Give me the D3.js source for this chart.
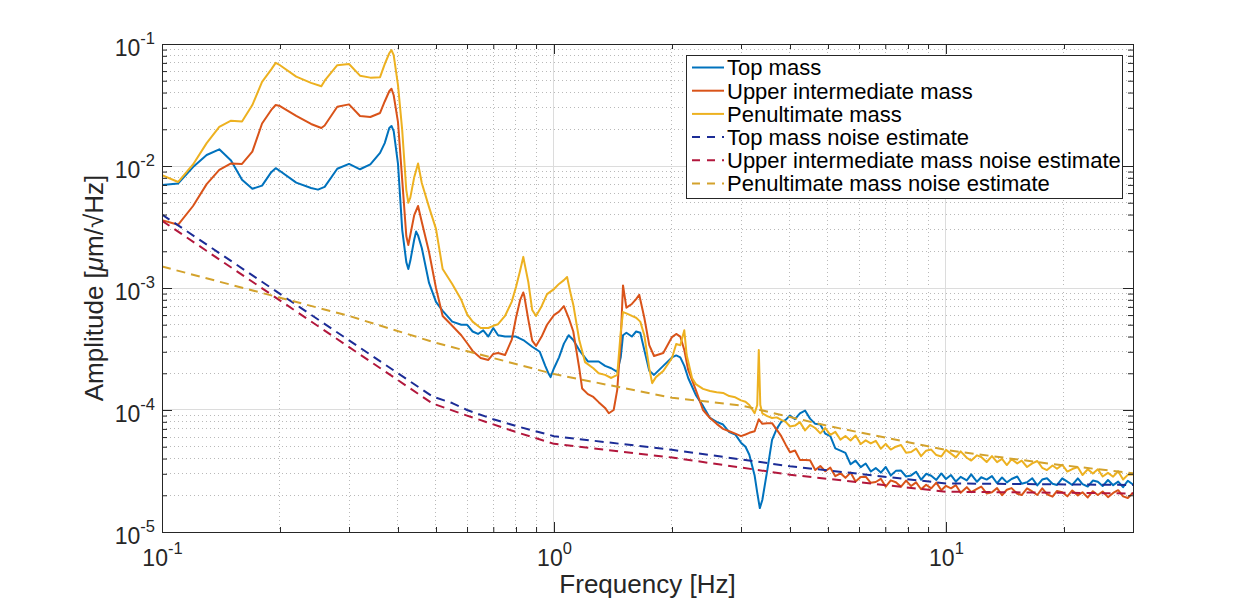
<!DOCTYPE html>
<html lang="en">

<head>
    <meta charset="UTF-8">
    <title>Suspension mass amplitude spectra</title>
    <script src="https://d3js.org/d3.v7.min.js"></script>
    <style>
        body {
            margin: 0;
            background: #fff;
        }

        svg {
            display: block;
            font-family: "Liberation Sans", Arial, Helvetica, sans-serif;
        }
    </style>
</head>

<body>
    <div id="chart"></div>

    <script>
        // ---- data (frequency in Hz, amplitude in um/sqrt(Hz)) ----
        var topFreq = [0.1, 0.11, 0.12, 0.13, 0.14, 0.15, 0.16, 0.17, 0.18, 0.19,
            0.195, 0.2, 0.22, 0.24, 0.25, 0.26, 0.28, 0.3, 0.32, 0.34,
            0.36, 0.37, 0.38, 0.385, 0.39, 0.4, 0.41, 0.42, 0.425, 0.43,
            0.44, 0.445, 0.45, 0.46, 0.48, 0.5, 0.52, 0.55, 0.58, 0.6,
            0.62, 0.64, 0.66, 0.68, 0.7, 0.72, 0.75, 0.78, 0.8, 0.84,
            0.88, 0.92, 0.95, 0.97, 0.98, 1.0, 1.03, 1.06, 1.09, 1.12,
            1.16, 1.22, 1.3, 1.35, 1.4, 1.45, 1.48, 1.5, 1.53, 1.58,
            1.62, 1.66, 1.7, 1.75, 1.8, 1.9, 2.0, 2.05, 2.1, 2.15,
            2.2, 2.3, 2.4, 2.5, 2.6, 2.7, 2.8, 2.9, 3.0, 3.08,
            3.15, 3.25, 3.3, 3.35, 3.4, 3.5, 3.6, 3.7, 3.8, 3.9];
        var topAmp = [7.0e-3, 7.2e-3, 9.8e-3, 1.23e-2, 1.37e-2, 1.11e-2, 7.7e-3, 6.5e-3, 6.9e-3, 8.9e-3,
            9.6e-3, 9.1e-3, 7.3e-3, 6.6e-3, 6.4e-3, 6.75e-3, 9.5e-3, 1.04e-2, 9.4e-3, 1.03e-2,
            1.28e-2, 1.54e-2, 2.05e-2, 2.13e-2, 1.93e-2, 1.04e-2, 3.0e-3, 1.63e-3, 1.43e-3, 1.67e-3,
            2.5e-3, 2.9e-3, 2.7e-3, 2.13e-3, 1.1e-3, 7.7e-4, 6.5e-4, 5.3e-4, 5.0e-4, 5.0e-4,
            4.4e-4, 4.2e-4, 4.5e-4, 4.0e-4, 4.7e-4, 4.1e-4, 4.0e-4, 4.0e-4, 4.0e-4, 3.7e-4,
            3.3e-4, 3.0e-4, 2.3e-4, 1.97e-4, 1.86e-4, 2.2e-4, 2.7e-4, 3.5e-4, 4.1e-4, 3.75e-4,
            3.1e-4, 2.5e-4, 2.5e-4, 2.3e-4, 2.2e-4, 2.05e-4, 2.7e-4, 4.1e-4, 4.3e-4, 4.0e-4,
            4.4e-4, 4.3e-4, 3.1e-4, 2.1e-4, 1.94e-4, 2.3e-4, 2.7e-4, 2.8e-4, 2.7e-4, 2.3e-4,
            1.83e-4, 1.33e-4, 1.08e-4, 8.6e-5, 8.0e-5, 7.6e-5, 6.6e-5, 6.3e-5, 5.4e-5, 5.0e-5,
            4.3e-5, 2.9e-5, 2.1e-5, 1.57e-5, 1.83e-5, 3.2e-5, 5.7e-5, 7.0e-5, 8.0e-5, 8.3e-5];

        var upperFreq = [0.1, 0.11, 0.12, 0.13, 0.14, 0.15, 0.16, 0.17, 0.18, 0.19,
            0.195, 0.2, 0.22, 0.24, 0.255, 0.26, 0.28, 0.3, 0.32, 0.34,
            0.36, 0.37, 0.38, 0.385, 0.39, 0.4, 0.41, 0.42, 0.425, 0.43,
            0.44, 0.45, 0.46, 0.48, 0.5, 0.52, 0.55, 0.58, 0.6, 0.62,
            0.65, 0.68, 0.7, 0.72, 0.75, 0.78, 0.8, 0.82, 0.835, 0.84,
            0.86, 0.88, 0.9, 0.93, 0.96, 1.0, 1.03, 1.06, 1.09, 1.12,
            1.16, 1.18, 1.22, 1.26, 1.3, 1.35, 1.38, 1.42, 1.45, 1.48,
            1.5, 1.53, 1.58, 1.62, 1.65, 1.7, 1.75, 1.8, 1.9, 2.0,
            2.05, 2.1, 2.15, 2.2, 2.3, 2.4, 2.5, 2.6, 2.7, 2.8,
            2.9, 3.0, 3.08, 3.15, 3.25, 3.33, 3.4, 3.5, 3.6, 3.7,
            3.8, 3.9];
        var upperAmp = [3.6e-3, 3.3e-3, 4.7e-3, 7.1e-3, 9.3e-3, 1.05e-2, 1.04e-2, 1.31e-2, 2.23e-2, 2.88e-2,
            3.16e-2, 3.1e-2, 2.58e-2, 2.21e-2, 2.05e-2, 2.15e-2, 3.06e-2, 3.2e-2, 2.57e-2, 2.52e-2,
            2.72e-2, 3.38e-2, 4.1e-2, 4.3e-2, 3.8e-2, 2.29e-2, 7.7e-3, 2.67e-3, 2.25e-3, 2.72e-3,
            3.96e-3, 4.7e-3, 3.48e-3, 1.97e-3, 1.0e-3, 5.9e-4, 4.9e-4, 4.1e-4, 3.54e-4, 3.05e-4,
            2.67e-4, 2.57e-4, 2.88e-4, 2.93e-4, 2.82e-4, 3.75e-4, 5.7e-4, 8.0e-4, 9.2e-4, 8.6e-4,
            5.5e-4, 3.7e-4, 3.35e-4, 4.0e-4, 5.0e-4, 6.0e-4, 6.4e-4, 7.1e-4, 5.7e-4, 4.4e-4,
            2.2e-4, 1.5e-4, 1.35e-4, 1.28e-4, 1.16e-4, 1.04e-4, 9.4e-5, 1.0e-4, 1.46e-4, 3.75e-4,
            1.05e-3, 6.9e-4, 7.4e-4, 8.1e-4, 8.8e-4, 5.7e-4, 3.4e-4, 2.77e-4, 2.93e-4, 3.96e-4,
            4.2e-4, 4.0e-4, 3.1e-4, 2.13e-4, 1.46e-4, 1.0e-4, 8.6e-5, 7.7e-5, 7.0e-5, 6.7e-5,
            6.4e-5, 6.1e-5, 6.3e-5, 6.5e-5, 6.7e-5, 8.4e-5, 7.7e-5, 7.8e-5, 7.8e-5, 6.9e-5,
            6.1e-5, 5.2e-5];

        var penultFreq = [0.1, 0.11, 0.12, 0.13, 0.14, 0.15, 0.16, 0.17, 0.18, 0.19,
            0.195, 0.2, 0.22, 0.24, 0.255, 0.26, 0.28, 0.3, 0.32, 0.34,
            0.36, 0.37, 0.38, 0.385, 0.39, 0.4, 0.41, 0.42, 0.425, 0.43,
            0.44, 0.45, 0.46, 0.48, 0.5, 0.52, 0.55, 0.58, 0.6, 0.62,
            0.65, 0.68, 0.7, 0.72, 0.75, 0.78, 0.8, 0.82, 0.835, 0.84,
            0.86, 0.88, 0.9, 0.93, 0.96, 1.0, 1.03, 1.06, 1.08, 1.1,
            1.12, 1.16, 1.2, 1.26, 1.3, 1.35, 1.4, 1.45, 1.48, 1.5,
            1.53, 1.58, 1.62, 1.66, 1.7, 1.75, 1.78, 1.82, 1.9, 2.0,
            2.05, 2.1, 2.15, 2.18, 2.25, 2.3, 2.4, 2.5, 2.6, 2.7,
            2.8, 2.9, 3.0, 3.08, 3.15, 3.25, 3.3, 3.33, 3.36, 3.4,
            3.5, 3.6, 3.7, 3.8, 3.9];
        var penultAmp = [8.4e-3, 7.4e-3, 1.03e-2, 1.54e-2, 2.09e-2, 2.35e-2, 2.32e-2, 3.16e-2, 4.9e-2, 6.2e-2,
            7.0e-2, 6.7e-2, 5.4e-2, 4.8e-2, 4.5e-2, 5.0e-2, 6.7e-2, 6.85e-2, 5.5e-2, 5.3e-2,
            5.35e-2, 6.85e-2, 8.4e-2, 8.9e-2, 8.1e-2, 4.6e-2, 1.97e-2, 6.35e-3, 5.0e-3, 5.5e-3,
            8.1e-3, 1.05e-2, 7.25e-3, 4.6e-3, 3.05e-3, 1.43e-3, 1.08e-3, 8.0e-4, 6.1e-4, 5.3e-4,
            4.7e-4, 4.7e-4, 4.9e-4, 5.05e-4, 5.9e-4, 7.7e-4, 1.02e-3, 1.4e-3, 1.8e-3, 1.63e-3,
            1.12e-3, 6.6e-4, 5.9e-4, 7.1e-4, 8.9e-4, 9.8e-4, 1.08e-3, 1.16e-3, 1.23e-3, 9.3e-4,
            7.3e-4, 3.75e-4, 2.47e-4, 2.2e-4, 2.0e-4, 1.94e-4, 1.83e-4, 1.94e-4, 4.35e-4, 6.35e-4,
            6.2e-4, 5.9e-4, 5.7e-4, 5.3e-4, 4.1e-4, 2.2e-4, 1.66e-4, 1.86e-4, 2.09e-4, 2.67e-4,
            3.47e-4, 3.4e-4, 4.5e-4, 2.82e-4, 1.83e-4, 1.63e-4, 1.49e-4, 1.43e-4, 1.4e-4, 1.38e-4,
            1.3e-4, 1.27e-4, 1.2e-4, 1.17e-4, 1.1e-4, 9.4e-5, 1.1e-4, 3.1e-4, 1.1e-4, 9.4e-5,
            8.9e-5, 8.6e-5, 8.7e-5, 8.3e-5, 8.0e-5];

        // noisy part above 4 Hz, shared frequency grid; amplitudes in units of 1e-5 um/sqrt(Hz)
        var hfFreq = [4.0, 4.12, 4.24, 4.37, 4.5, 4.64, 4.78, 4.92, 5.07, 5.22,
            5.38, 5.54, 5.71, 5.88, 6.06, 6.24, 6.43, 6.62, 6.82, 7.02,
            7.23, 7.45, 7.68, 7.91, 8.15, 8.39, 8.64, 8.9, 9.17, 9.45,
            9.73, 10.0, 10.3, 10.6, 10.9, 11.3, 11.6, 12.0, 12.3, 12.7,
            13.1, 13.5, 13.9, 14.3, 14.7, 15.2, 15.6, 16.1, 16.6, 17.1,
            17.6, 18.1, 18.7, 19.2, 19.8, 20.4, 21.0, 21.7, 22.3, 23.0,
            23.7, 24.4, 25.1, 25.9, 26.7, 27.5, 28.3, 29.1, 30.0];
        var hfTop = [9.0, 8.4, 9.4, 9.9, 8.5, 7.7, 7.6, 6.4, 6.1, 4.85,
            4.65, 4.45, 3.59, 3.85, 3.4, 3.64, 3.13, 3.34, 3.07, 3.41,
            2.9, 3.17, 3.19, 2.85, 2.91, 3.12, 2.68, 3.0, 2.89, 2.67,
            3.02, 2.72, 2.93, 2.59, 2.83, 2.65, 2.97, 2.58, 2.81, 2.69,
            2.87, 2.51, 2.8, 2.55, 2.72, 2.85, 2.49, 2.56, 2.76, 2.41,
            2.69, 2.76, 2.49, 2.43, 2.75, 2.59, 2.43, 2.75, 2.47, 2.36,
            2.64, 2.58, 2.38, 2.67, 2.42, 2.59, 2.33, 2.63, 2.45];
        var hfUpper = [4.51, 4.65, 3.9, 3.89, 3.87, 3.22, 3.48, 3.15, 3.37, 2.87,
            3.03, 2.78, 3.07, 2.59, 2.82, 2.84, 2.53, 2.57, 2.73, 2.35,
            2.65, 2.56, 2.35, 2.64, 2.38, 2.55, 2.24, 2.44, 2.28, 2.54,
            2.2, 2.39, 2.28, 2.42, 2.1, 2.33, 2.12, 2.26, 2.36, 2.07,
            2.12, 2.29, 2.0, 2.22, 2.29, 2.06, 2.01, 2.28, 2.15, 2.01,
            2.28, 2.04, 1.95, 2.17, 2.12, 1.96, 2.19, 1.99, 2.12, 1.92,
            2.16, 2.01, 2.15, 1.93, 2.09, 2.2, 1.96, 1.9, 2.1];
        var hfPenult = [7.32, 7.45, 7.95, 6.81, 7.54, 7.12, 6.44, 7.12, 6.26, 6.62,
            5.72, 6.12, 5.62, 6.18, 5.26, 5.64, 5.32, 5.59, 4.81, 5.28,
            4.74, 5.0, 5.16, 4.46, 4.53, 4.83, 4.19, 4.64, 4.74, 4.27,
            4.16, 4.71, 4.39, 4.09, 4.58, 4.06, 3.85, 4.25, 4.12, 3.75,
            4.19, 3.74, 3.97, 3.54, 3.95, 3.65, 3.85, 3.41, 3.65, 3.82,
            3.36, 3.22, 3.51, 3.3, 3.56, 3.13, 3.28, 3.4, 2.93, 3.27,
            3.01, 3.27, 2.85, 3.05, 2.84, 3.15, 2.69, 2.94, 2.96];

        // noise estimates
        var topNoiseFreq = [0.1, 0.49, 0.55, 0.6, 0.7, 0.8, 1, 2, 4, 10, 30];
        var topNoiseAmp = [4.0e-3, 1.29e-4, 1.14e-4, 1.0e-4, 8.4e-5, 7.4e-5, 6.1e-5, 4.72e-5, 3.46e-5, 2.5e-5, 2.43e-5];
        var upperNoiseFreq = [0.1, 0.49, 0.6, 0.8, 1, 2, 4, 10, 30];
        var upperNoiseAmp = [3.56e-3, 1.13e-4, 9.0e-5, 6.6e-5, 5.28e-5, 4.08e-5, 2.95e-5, 2.14e-5, 2.07e-5];
        var penultNoiseFreq = [0.1, 0.3, 0.5, 1, 2, 3, 5, 10, 18, 30];
        var penultNoiseAmp = [1.5e-3, 5.9e-4, 3.55e-4, 1.97e-4, 1.26e-4, 1.09e-4, 7.4e-5, 4.7e-5, 3.66e-5, 3.03e-5];

        var legendNames = ['Top mass', 'Upper intermediate mass', 'Penultimate mass',
            'Top mass noise estimate', 'Upper intermediate mass noise estimate', 'Penultimate mass noise estimate'];

        // ticks
        var xMajorTicks = [0.1, 1, 10];
        var xTickExps = ['-1', '0', '1'];
        var xMinorTicks = [0.2, 0.3, 0.4, 0.5, 0.6, 0.7, 0.8, 0.9, 2, 3, 4, 5, 6, 7, 8, 9, 20];
        var yMajorTicks = [1e-5, 1e-4, 1e-3, 1e-2, 1e-1];
        var yTickExps = ['-5', '-4', '-3', '-2', '-1'];

        // ---- drawing ----
        var width = 1252;
        var height = 600;
        var plotLeft = 162, plotRight = 1133, plotTop = 44, plotBottom = 532;
        var axisColor = '#262626';

        var svg = d3.select('#chart')
            .append('svg')
            .attr('width', width)
            .attr('height', height);

        var x = d3.scaleLog().domain([0.1, 30]).range([plotLeft, plotRight]);
        var y = d3.scaleLog().domain([1e-5, 1e-1]).range([plotBottom, plotTop]);

        var yMinorTicks = [];
        yMajorTicks.slice(0, -1).forEach(function (d) {
            for (var m = 2; m <= 9; m++) yMinorTicks.push(d * m);
        });

        function snap(v) { return Math.round(v - 0.5) + 0.5; }

        // grid
        var grid = svg.append('g');
        grid.selectAll('.xmin').data(xMinorTicks).enter().append('line')
            .attr('x1', function (d) { return snap(x(d)); })
            .attr('x2', function (d) { return snap(x(d)); })
            .attr('y1', plotTop).attr('y2', plotBottom)
            .attr('stroke', '#b9b9b9').attr('stroke-dasharray', '1,3');
        grid.selectAll('.ymin').data(yMinorTicks).enter().append('line')
            .attr('y1', function (d) { return snap(y(d)); })
            .attr('y2', function (d) { return snap(y(d)); })
            .attr('x1', plotLeft).attr('x2', plotRight)
            .attr('stroke', '#b9b9b9').attr('stroke-dasharray', '1,3');
        grid.selectAll('.xmaj').data([1, 10]).enter().append('line')
            .attr('x1', function (d) { return snap(x(d)); })
            .attr('x2', function (d) { return snap(x(d)); })
            .attr('y1', plotTop).attr('y2', plotBottom)
            .attr('stroke', '#dcdcdc');
        grid.selectAll('.ymaj').data([1e-4, 1e-3, 1e-2]).enter().append('line')
            .attr('y1', function (d) { return snap(y(d)); })
            .attr('y2', function (d) { return snap(y(d)); })
            .attr('x1', plotLeft).attr('x2', plotRight)
            .attr('stroke', '#dcdcdc');

        // data
        svg.append('clipPath').attr('id', 'plotclip')
            .append('rect').attr('x', plotLeft).attr('y', plotTop)
            .attr('width', plotRight - plotLeft + 1).attr('height', plotBottom - plotTop + 1);

        function pairs(f, a, scale) {
            return f.map(function (d, i) { return [d, a[i] * (scale || 1)]; });
        }

        var series = [
            { data: pairs(topFreq, topAmp).concat(pairs(hfFreq, hfTop, 1e-5)), color: '#0072bd', dash: null },
            { data: pairs(upperFreq, upperAmp).concat(pairs(hfFreq, hfUpper, 1e-5)), color: '#d95319', dash: null },
            { data: pairs(penultFreq, penultAmp).concat(pairs(hfFreq, hfPenult, 1e-5)), color: '#edb120', dash: null },
            { data: pairs(topNoiseFreq, topNoiseAmp), color: '#1c2c96', dash: '9,6' },
            { data: pairs(upperNoiseFreq, upperNoiseAmp), color: '#b2173c', dash: '9,6' },
            { data: pairs(penultNoiseFreq, penultNoiseAmp), color: '#d3a22c', dash: '9,6' }
        ];

        var line = d3.line()
            .x(function (d) { return x(d[0]); })
            .y(function (d) { return y(d[1]); });

        var plot = svg.append('g').attr('clip-path', 'url(#plotclip)');
        plot.selectAll('path')
            .data(series)
            .enter()
            .append('path')
            .attr('d', function (d) { return line(d.data); })
            .attr('fill', 'none')
            .attr('stroke', function (d) { return d.color; })
            .attr('stroke-width', 2)
            .attr('stroke-linejoin', 'round')
            .attr('stroke-dasharray', function (d) { return d.dash; });

        // axes (ticks point inward on all four sides)
        function styleAxis(g) {
            g.attr('color', axisColor);
            g.selectAll('text').remove();
        }
        svg.append('g').attr('transform', 'translate(0,' + plotBottom + ')')
            .call(d3.axisBottom(x).tickValues(xMajorTicks).tickSize(-10).tickSizeOuter(0)).call(styleAxis);
        svg.append('g').attr('transform', 'translate(0,' + plotBottom + ')')
            .call(d3.axisBottom(x).tickValues(xMinorTicks).tickSize(-5).tickSizeOuter(0)).call(styleAxis);
        svg.append('g').attr('transform', 'translate(0,' + plotTop + ')')
            .call(d3.axisTop(x).tickValues(xMajorTicks).tickSize(-10).tickSizeOuter(0)).call(styleAxis);
        svg.append('g').attr('transform', 'translate(0,' + plotTop + ')')
            .call(d3.axisTop(x).tickValues(xMinorTicks).tickSize(-5).tickSizeOuter(0)).call(styleAxis);
        svg.append('g').attr('transform', 'translate(' + plotLeft + ',0)')
            .call(d3.axisLeft(y).tickValues(yMajorTicks).tickSize(-10).tickSizeOuter(0)).call(styleAxis);
        svg.append('g').attr('transform', 'translate(' + plotLeft + ',0)')
            .call(d3.axisLeft(y).tickValues(yMinorTicks).tickSize(-5).tickSizeOuter(0)).call(styleAxis);
        svg.append('g').attr('transform', 'translate(' + plotRight + ',0)')
            .call(d3.axisRight(y).tickValues(yMajorTicks).tickSize(-10).tickSizeOuter(0)).call(styleAxis);
        svg.append('g').attr('transform', 'translate(' + plotRight + ',0)')
            .call(d3.axisRight(y).tickValues(yMinorTicks).tickSize(-5).tickSizeOuter(0)).call(styleAxis);

        svg.append('rect')
            .attr('x', plotLeft + 0.5).attr('y', plotTop + 0.5)
            .attr('width', plotRight - plotLeft).attr('height', plotBottom - plotTop)
            .attr('fill', 'none').attr('stroke', axisColor);

        // tick labels, 10 with a raised exponent
        function powerLabel(sel, exps) {
            sel.append('tspan').text('10');
            sel.append('tspan').attr('dy', -12).attr('font-size', 16.5)
                .text(function (d, i) { return exps[i]; });
        }
        svg.append('g').selectAll('text')
            .data(xMajorTicks).enter().append('text')
            .attr('x', function (d) { return x(d) + 0.5; })
            .attr('y', 566)
            .attr('text-anchor', 'middle')
            .attr('font-size', 23)
            .attr('fill', axisColor)
            .call(powerLabel, xTickExps);
        svg.append('g').selectAll('text')
            .data(yMajorTicks).enter().append('text')
            .attr('x', 155)
            .attr('y', function (d) { return y(d) + 11.5; })
            .attr('text-anchor', 'end')
            .attr('font-size', 23)
            .attr('fill', axisColor)
            .call(powerLabel, yTickExps);

        // axis titles
        svg.append('text')
            .attr('x', (plotLeft + plotRight) / 2)
            .attr('y', 593)
            .attr('text-anchor', 'middle')
            .attr('font-size', 26)
            .attr('fill', axisColor)
            .text('Frequency [Hz]');

        var ylab = svg.append('text')
            .attr('transform', 'translate(103,' + (plotTop + plotBottom) / 2 + ') rotate(-90)')
            .attr('text-anchor', 'middle')
            .attr('font-size', 26)
            .attr('fill', axisColor);
        ylab.append('tspan').text('Amplitude [');
        ylab.append('tspan').attr('font-style', 'italic').text('\u03bc');
        ylab.append('tspan').text('m/\u221aHz]');

        // legend
        var legend = svg.append('g');
        legend.append('rect')
            .attr('x', 686.5).attr('y', 55.5)
            .attr('width', 436).attr('height', 143)
            .attr('fill', '#fff').attr('stroke', axisColor);
        var rows = legend.selectAll('.row')
            .data(series).enter().append('g')
            .attr('transform', function (d, i) { return 'translate(0,' + (67.5 + i * 23.2) + ')'; });
        rows.append('line')
            .attr('x1', 692).attr('x2', 724)
            .attr('stroke', function (d) { return d.color; })
            .attr('stroke-width', 2)
            .attr('stroke-dasharray', function (d) { return d.dash ? '8,7' : null; });
        rows.append('text')
            .attr('x', 727)
            .attr('dy', '0.36em')
            .attr('font-size', 22)
            .attr('fill', '#000')
            .text(function (d, i) { return legendNames[i]; });
    </script>
</body>

</html>
